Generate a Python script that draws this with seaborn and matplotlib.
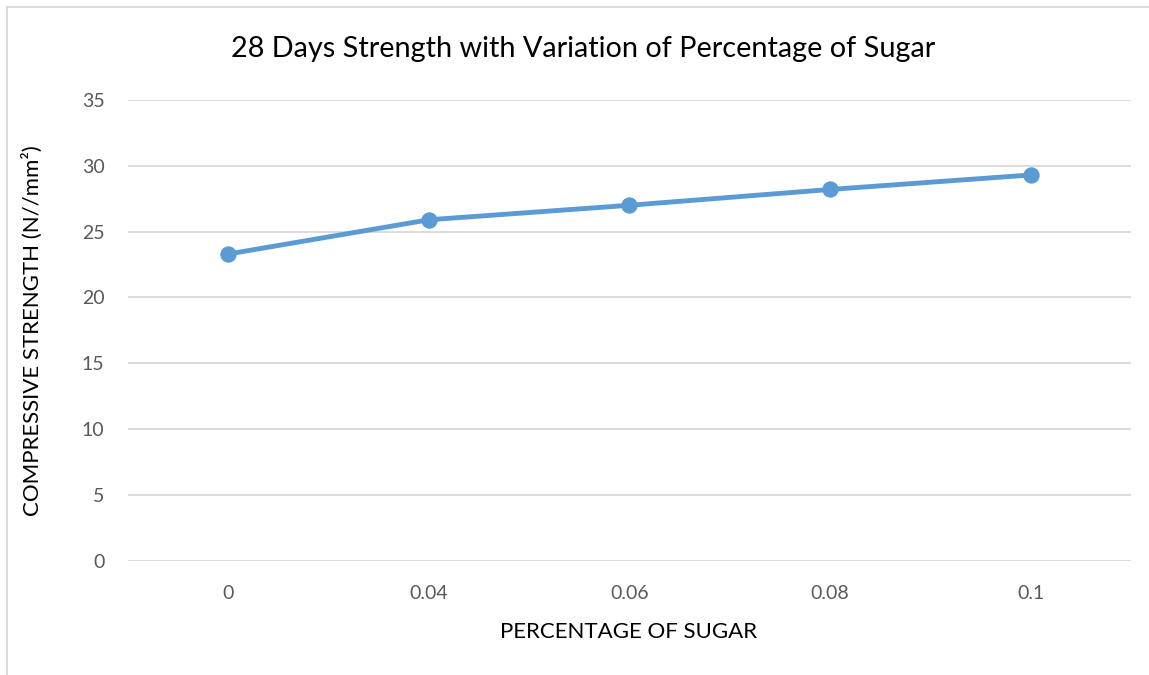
import matplotlib
matplotlib.use("Agg")
import matplotlib.pyplot as plt
import seaborn as sns
import pandas as pd
from matplotlib.patches import Rectangle

categories = ["0", "0.04", "0.06", "0.08", "0.1"]
strength = [23.3, 25.9, 27.0, 28.2, 29.3]
y_ticks = [0, 5, 10, 15, 20, 25, 30, 35]

sns.set_theme(style="white")
plt.rcParams['font.family'] = ['Lato', 'DejaVu Sans']

df = pd.DataFrame({"sugar": categories, "strength": strength})

fig = plt.figure(figsize=(11.49, 6.75), dpi=100)
ax = fig.add_axes([0.1114, 0.169, 0.8729, 0.683])

sns.lineplot(data=df, x="sugar", y="strength", ax=ax, sort=False,
             color="#5B9BD5", linewidth=3.5, marker="o", markersize=11,
             markeredgecolor="#5B9BD5")

ax.set_xlim(-0.5, 4.5)
ax.set_ylim(0, 35)
ax.set_yticks(y_ticks)
ax.set_yticklabels([str(v) for v in y_ticks])
ax.yaxis.grid(True, color="#D9D9D9", linewidth=1.3)
ax.xaxis.grid(False)
ax.set_axisbelow(True)
for s in ax.spines.values():
    s.set_visible(False)
ax.tick_params(axis="both", length=0, labelsize=14, labelcolor="#595959")
ax.tick_params(axis="y", pad=17)
ax.tick_params(axis="x", pad=17)

ax.set_xlabel("PERCENTAGE OF SUGAR", fontsize=16, color="#000000")
ax.set_ylabel("COMPRESSIVE STRENGTH (N//mm²)", fontsize=16, color="#000000")
ax.xaxis.set_label_coords(0.4995, -0.154)
ax.yaxis.set_label_coords(-0.0957, 0.5)
ax.xaxis.label.set_va("center")
ax.yaxis.label.set_va("center")
fig.text(0.5074, 0.927, "28 Days Strength with Variation of Percentage of Sugar",
         ha="center", va="center", fontsize=20.8, color="#000000")

fig.patches.append(Rectangle((7/1149, -0.1), 1.2, 1 - 7/675 + 0.1, transform=fig.transFigure,
                             fill=False, edgecolor="#D9D9D9", linewidth=1.3))

fig.savefig("out.png", dpi=100, facecolor="white")
